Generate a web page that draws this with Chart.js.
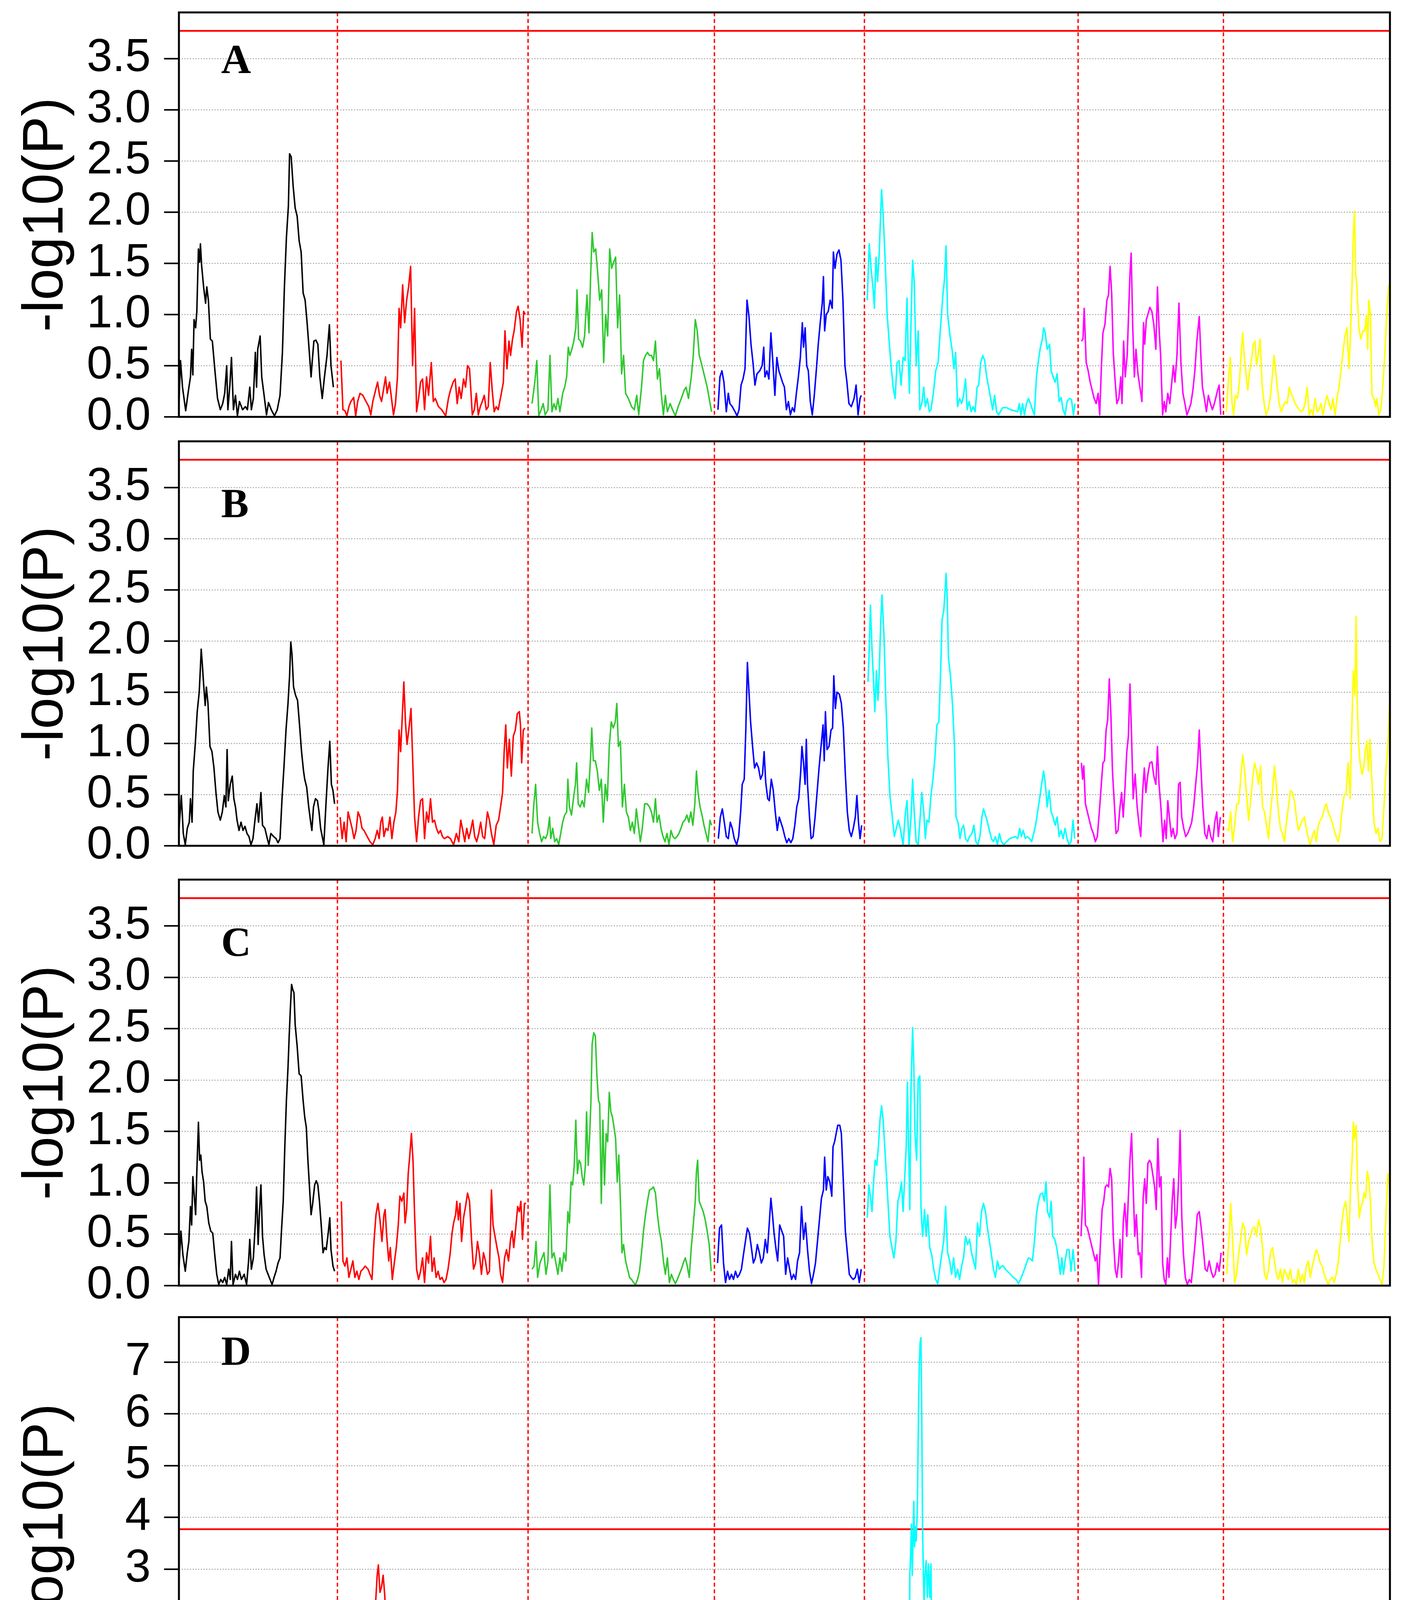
<!DOCTYPE html>
<html><head><meta charset="utf-8">
<script src="https://cdn.jsdelivr.net/npm/chart.js@4.4.1/dist/chart.umd.min.js"></script>
<style>
html,body{margin:0;padding:0;background:#fff;}
body{width:3594px;height:4819px;position:relative;overflow:hidden;}
</style></head><body>
<script>
// ---------- categories / constants ----------
const chrNames = ['1H','2H','3H','4H','5H','6H','7H'];
const chrLengths = [398,479,468,377,537,365,418];   // map units per chromosome
const chrColors = ['#000000','#ff0000','#30c830','#0000ff','#00ffff','#ff00ff','#ffff00'];
const threshold = 3.77;
const yTicksABC = [0,0.5,1,1.5,2,2.5,3,3.5];
const yTicksD = [0,1,2,3,4,5,6,7];
const additiveCells = [[108,125],[125,134],[134,155]];   // positions on 5H
const additiveColors = ['#ff6a00','#8b0000','#cc3d00'];

// ---------- panel A : [position within chromosome, -log10(P)] ----------
const A_1H = [[0,.13],[4,.55],[9,.29],[17,.06],[24,.26],[29,.39],[32,.66],[35,.41],[38,.95],[42,.87],[45,1.03],[49,1.64],[52,1.51],[54,1.69],[57,1.48],[62,1.27],[67,1.11],[70,1.27],[74,1.14],[79,.76],[84,.74],[90,.47],[97,.18],[104,.07],[110,.13],[115,.23],[120,.5],[123,.07],[128,.31],[132,.58],[137,.07],[142,.21],[147,.01],[152,.15],[160,.07],[167,.1],[172,.07],[178,.29],[182,.07],[187,.18],[192,.63],[195,.29],[198,.66],[204,.79],[208,.39],[214,.21],[220,.02],[225,.14],[232,.07],[240,.01],[247,.07],[254,.21],[260,.63],[265,1.27],[270,1.75],[275,2.06],[278,2.57],[282,2.54],[287,2.25],[292,2.04],[297,1.96],[302,1.72],[307,1.61],[312,1.21],[317,1.14],[322,.92],[327,.66],[332,.39],[335,.55],[339,.74],[344,.75],[349,.71],[354,.39],[360,.18],[365,.37],[372,.6],[378,.9],[382,.5],[388,.29]];
const A_2H = [[9,.55],[14,.07],[19,.06],[24,.01],[29,.1],[34,.15],[41,.19],[46,.01],[51,.15],[57,.23],[64,.21],[72,.15],[79,.1],[84,.02],[89,.15],[96,.26],[101,.34],[106,.21],[111,.15],[117,.29],[121,.39],[125,.23],[131,.34],[136,.18],[141,.02],[146,.13],[151,.39],[155,1.06],[159,.87],[164,1.29],[169,.92],[174,1.14],[179,1.27],[184,1.47],[189,.5],[194,1.06],[199,.05],[204,.18],[209,.34],[214,.37],[219,.07],[224,.39],[229,.21],[236,.53],[241,.15],[246,.18],[254,.1],[262,.07],[272,.01],[279,.18],[284,.26],[291,.34],[296,.37],[301,.13],[306,.29],[311,.18],[317,.37],[322,.29],[327,.5],[332,.47],[339,.02],[344,.07],[349,.23],[354,.02],[359,.1],[364,.15],[369,.21],[374,.07],[379,.1],[384,.53],[389,.26],[394,.05],[399,.1],[404,.07],[411,.21],[417,.34],[421,.84],[426,.47],[431,.74],[435,.6],[440,.76],[444,.84],[450,1.03],[454,1.08],[459,.95],[464,.68],[468,1.03],[472,1.0]];
const A_3H = [[10,.13],[17,.34],[22,.55],[27,.01],[33,.07],[38,.13],[43,.02],[50,.07],[55,.6],[60,.05],[65,.13],[70,.07],[75,.18],[80,.05],[87,.23],[92,.29],[97,.39],[101,.68],[105,.6],[110,.66],[115,.74],[120,.87],[123,1.24],[127,.76],[132,.74],[137,.68],[142,.79],[148,1.19],[153,.82],[157,1.35],[161,1.8],[165,1.61],[170,1.64],[175,1.4],[180,1.14],[185,1.24],[190,.53],[195,1.0],[200,.79],[205,1.64],[210,1.45],[215,1.51],[220,1.56],[225,.87],[230,1.19],[235,.42],[240,.6],[245,.23],[252,.18],[260,.1],[267,.07],[273,.21],[278,.02],[285,.29],[290,.55],[295,.6],[300,.63],[305,.6],[310,.6],[315,.55],[320,.74],[325,.37],[330,.47],[335,.21],[340,.02],[345,.21],[350,.05],[357,.13],[363,.07],[370,.01],[377,.1],[385,.18],[392,.26],[397,.29],[403,.18],[410,.39],[415,.6],[420,.95],[425,.84],[430,.6],[435,.53],[440,.45],[445,.37],[450,.29],[455,.18],[461,.05]];
const A_4H = [[9,.07],[14,.39],[19,.45],[24,.34],[30,.05],[35,.23],[39,.13],[45,.1],[52,.05],[57,.01],[62,.07],[67,.31],[72,.37],[77,.47],[82,1.14],[87,.98],[92,.71],[97,.53],[102,.31],[107,.42],[114,.45],[120,.5],[124,.68],[127,.39],[132,.45],[137,.37],[142,.82],[147,.53],[152,.21],[157,.58],[162,.45],[167,.39],[171,.34],[176,.29],[181,.07],[186,.15],[191,.02],[196,.09],[201,.05],[206,.23],[211,.39],[216,.58],[221,.92],[224,.68],[228,.87],[232,.5],[236,.45],[241,.15],[246,.02],[251,.21],[256,.45],[261,.71],[266,.92],[271,1.11],[274,1.37],[277,.84],[281,1.0],[286,1.03],[291,1.14],[296,1.06],[299,1.61],[303,1.45],[308,1.59],[313,1.63],[318,1.53],[323,1.14],[328,.5],[333,.34],[338,.13],[344,.1],[351,.18],[356,.31],[361,.02],[366,.18],[369,.21]];
const A_5H = [[7,1.14],[12,1.69],[17,1.43],[22,1.24],[25,1.06],[29,1.56],[33,1.32],[37,1.59],[43,2.22],[47,1.98],[52,1.53],[57,1.0],[62,.74],[67,.5],[72,.29],[77,.18],[82,.53],[87,.55],[92,.31],[97,.58],[102,.55],[107,1.16],[110,.58],[113,.23],[117,.92],[121,1.53],[125,1.32],[130,.5],[135,.84],[139,.07],[144,.13],[149,.29],[153,.1],[158,.18],[163,.05],[167,.07],[173,.23],[179,.45],[185,.53],[191,.87],[197,1.19],[201,1.34],[205,1.67],[209,1.0],[215,.79],[220,.66],[225,.47],[229,.63],[234,.1],[239,.18],[244,.13],[249,.21],[254,.37],[258,.07],[263,.15],[268,.05],[273,.1],[278,.05],[283,.29],[287,.31],[292,.53],[297,.6],[302,.55],[307,.39],[312,.29],[317,.18],[322,.07],[327,.21],[332,.05],[337,.02],[347,.09],[357,.09],[367,.07],[377,.06],[385,.05],[389,.13],[393,.02],[397,.13],[402,.02],[407,.13],[412,.18],[417,.13],[422,.07],[427,.02],[432,.39],[437,.55],[442,.68],[447,.76],[450,.87],[454,.82],[459,.66],[465,.71],[469,.45],[474,.39],[479,.34],[484,.42],[489,.15],[494,.19],[499,.07],[504,.02],[509,.15],[515,.18],[520,.17],[525,.02],[529,.13]];
const A_6H = [[8,.74],[12,.76],[15,1.06],[20,.53],[25,.45],[30,.34],[35,.26],[40,.18],[45,.13],[50,.23],[54,.02],[58,.47],[62,.82],[67,.9],[72,1.14],[76,1.19],[80,1.47],[84,1.21],[88,.63],[92,.39],[97,.13],[102,.18],[107,.39],[110,.13],[114,.74],[118,.39],[123,.6],[127,1.06],[130,1.4],[133,1.6],[137,.87],[141,.39],[145,.66],[150,.42],[155,.29],[160,.15],[164,.92],[167,.71],[171,.95],[175,1.0],[180,1.07],[185,1.03],[190,.9],[195,.66],[199,1.27],[203,.87],[207,.6],[212,.02],[216,.15],[220,.05],[225,.23],[230,.13],[235,.34],[239,.5],[243,.34],[248,.6],[253,1.11],[258,.53],[263,.23],[268,.13],[273,.02],[278,.07],[283,.13],[288,.26],[293,.45],[298,.74],[304,.98],[308,.6],[312,.29],[317,.18],[322,.05],[327,.21],[332,.13],[337,.07],[342,.13],[347,.21],[350,.26],[354,.31],[358,.02]];
const A_7H = [[7,.05],[12,.34],[17,.58],[21,.15],[25,.02],[30,.21],[35,.18],[40,.34],[45,.66],[48,.82],[52,.6],[57,.39],[61,.26],[65,.42],[70,.55],[75,.71],[79,.74],[83,.5],[88,.63],[92,.76],[97,.31],[102,.13],[107,.02],[112,.07],[117,.18],[122,.37],[127,.6],[131,.45],[135,.29],[140,.13],[145,.05],[150,.1],[155,.15],[160,.13],[165,.29],[170,.23],[175,.18],[180,.13],[185,.1],[190,.07],[195,.05],[200,.07],[205,.13],[210,.29],[215,.02],[220,.07],[225,.02],[230,.18],[235,.05],[240,.07],[245,.13],[250,.02],[255,.13],[260,.21],[265,.13],[270,.07],[275,.18],[280,.02],[285,.18],[290,.29],[295,.45],[300,.63],[305,.79],[310,.87],[315,.47],[319,.82],[323,1.32],[326,1.77],[329,2.01],[332,1.4],[335,1.27],[340,.87],[345,.76],[350,.84],[355,.84],[359,1.0],[362,.66],[365,1.14],[369,1.0],[373,.21],[378,.18],[382,.1],[385,.18],[390,.02],[395,.07],[400,.29],[405,.6],[410,1.0],[415,1.29]];

// ---------- panel B ----------
const B_1H = [[0,.15],[6,.49],[11,.12],[16,.01],[21,.17],[26,.23],[29,.46],[33,.23],[36,.73],[41,.99],[46,1.31],[51,1.5],[54,1.74],[56,1.92],[59,1.76],[62,1.58],[66,1.37],[69,1.55],[73,1.39],[78,.97],[83,.92],[88,.76],[93,.52],[98,.33],[104,.25],[109,.33],[114,.49],[118,.38],[121,.94],[124,.44],[129,.6],[134,.68],[138,.46],[142,.38],[146,.25],[151,.15],[156,.23],[161,.15],[166,.19],[171,.12],[176,.09],[181,.01],[186,.07],[191,.25],[196,.41],[200,.23],[206,.52],[210,.2],[216,.17],[222,.07],[226,.01],[231,.12],[238,.09],[244,.07],[249,.03],[254,.07],[259,.46],[264,.78],[269,1.13],[274,1.39],[278,1.66],[281,1.99],[284,1.87],[288,1.55],[293,1.47],[298,1.42],[303,1.18],[308,.92],[313,.73],[316,.65],[321,.57],[326,.38],[331,.23],[334,.15],[338,.38],[343,.46],[348,.44],[352,.33],[356,.17],[361,.07],[364,.01],[369,.38],[374,.73],[379,1.02],[383,.6],[387,.54],[391,.41]];
const B_2H = [[7,.28],[12,.07],[17,.23],[22,.04],[27,.33],[32,.25],[37,.17],[42,.07],[47,.15],[52,.33],[57,.28],[62,.17],[67,.15],[75,.09],[82,.04],[89,.01],[95,.07],[100,.15],[105,.07],[109,.23],[113,.28],[117,.09],[122,.17],[127,.15],[132,.28],[137,.07],[142,.23],[147,.33],[151,.54],[155,1.13],[159,.92],[163,1.26],[167,1.6],[171,1.21],[175,.99],[180,1.15],[185,1.34],[189,.86],[194,.28],[199,.04],[204,.28],[209,.44],[214,.46],[219,.07],[224,.33],[229,.23],[234,.46],[239,.23],[244,.25],[249,.17],[254,.12],[259,.15],[264,.09],[269,.07],[277,.09],[284,.07],[292,.01],[299,.12],[305,.04],[310,.25],[315,.15],[320,.04],[325,.17],[330,.07],[335,.15],[340,.25],[345,.09],[350,.04],[355,.12],[360,.23],[365,.09],[370,.07],[377,.33],[382,.25],[387,.12],[393,.01],[399,.2],[405,.25],[410,.38],[415,.52],[419,.92],[423,1.18],[427,.76],[432,1.04],[437,.68],[442,1.07],[447,1.13],[452,1.29],[457,1.31],[460,1.18],[463,.81],[467,1.13],[471,1.15]];
const B_3H = [[10,.12],[14,.38],[19,.6],[24,.23],[29,.12],[34,.04],[39,.09],[44,.07],[49,.12],[54,.28],[57,.07],[62,.17],[67,.04],[72,.07],[77,.01],[82,.12],[87,.23],[92,.3],[97,.33],[100,.65],[104,.38],[109,.3],[114,.46],[119,.6],[122,.81],[126,.41],[131,.38],[136,.44],[141,.38],[147,.65],[152,.52],[157,.86],[160,1.15],[164,.83],[169,.83],[174,.73],[179,.54],[184,.65],[189,.23],[194,.6],[199,.44],[204,.97],[209,1.21],[214,1.15],[219,1.21],[223,1.39],[227,.97],[232,1.02],[237,.38],[242,.6],[247,.33],[252,.28],[257,.15],[262,.23],[267,.12],[272,.36],[277,.2],[282,.04],[287,.17],[293,.41],[299,.41],[305,.38],[310,.33],[315,.23],[320,.46],[324,.23],[329,.3],[334,.17],[339,.09],[344,.04],[349,.12],[354,.01],[359,.15],[364,.09],[369,.07],[374,.09],[379,.12],[384,.17],[389,.23],[394,.25],[399,.3],[404,.23],[409,.33],[414,.2],[419,.41],[423,.73],[427,.52],[432,.38],[437,.3],[442,.2],[447,.12],[452,.04],[457,.25],[461,.2]];
const B_4H = [[10,.07],[15,.28],[20,.36],[25,.23],[30,.09],[35,.07],[40,.23],[45,.17],[50,.07],[56,.01],[61,.09],[66,.33],[70,.6],[75,.65],[79,1.13],[83,1.79],[87,1.5],[91,1.21],[96,.97],[101,.76],[106,.81],[111,.76],[116,.65],[121,.7],[125,.92],[129,.62],[134,.46],[138,.44],[143,.65],[148,.54],[153,.33],[158,.15],[163,.28],[172,.17],[177,.09],[182,.03],[187,.07],[192,.03],[197,.07],[202,.2],[207,.38],[212,.46],[217,.73],[220,.97],[224,.81],[228,.6],[231,1.04],[234,.6],[239,.28],[243,.07],[248,.09],[253,.28],[258,.52],[263,.76],[268,.97],[273,1.18],[276,.83],[279,1.31],[283,.94],[288,.97],[293,1.13],[297,1.15],[300,1.66],[304,1.34],[308,1.5],[314,1.48],[319,1.39],[324,1.15],[329,.7],[334,.33],[339,.15],[344,.09],[349,.17],[354,.28],[358,.49],[362,.23],[366,.07],[370,.2]];
const B_5H = [[9,1.6],[12,1.92],[15,2.35],[19,1.92],[23,1.6],[26,1.31],[30,1.71],[34,1.42],[37,1.68],[41,2.19],[44,2.45],[49,2.06],[54,1.39],[59,.86],[64,.49],[70,.28],[75,.09],[80,.17],[85,.25],[90,.17],[97,.01],[103,.33],[107,.44],[112,.01],[117,.28],[121,.65],[125,.33],[130,.04],[135,.01],[140,.28],[144,.52],[149,.33],[153,.07],[157,.25],[162,.23],[167,.49],[172,.65],[177,.86],[182,1.18],[187,1.21],[191,1.66],[195,2.21],[199,2.29],[202,2.45],[205,2.66],[208,2.4],[211,1.84],[216,1.66],[221,1.39],[226,.99],[230,.28],[235,.23],[240,.07],[245,.17],[249,.2],[254,.07],[259,.04],[264,.09],[270,.12],[275,.2],[280,.04],[285,.01],[290,.09],[295,.28],[299,.36],[304,.3],[309,.23],[314,.15],[319,.07],[324,.04],[329,.09],[334,.01],[339,.12],[344,.04],[350,.01],[357,.04],[365,.07],[372,.08],[379,.09],[385,.07],[390,.17],[394,.09],[399,.15],[404,.07],[409,.09],[415,.07],[420,.04],[425,.12],[430,.2],[435,.33],[440,.46],[445,.6],[450,.73],[454,.62],[459,.38],[464,.54],[469,.33],[474,.28],[479,.2],[484,.28],[489,.09],[494,.15],[499,.07],[504,.17],[509,.07],[514,.01],[519,.04],[524,.25],[528,.07]];
const B_6H = [[8,.81],[11,.65],[14,.78],[18,.41],[23,.33],[28,.25],[33,.17],[38,.12],[43,.04],[48,.09],[53,.33],[58,.6],[62,.81],[66,.83],[70,1.13],[74,1.23],[78,1.63],[82,1.29],[86,.73],[90,.46],[95,.12],[100,.15],[105,.38],[109,.52],[113,.28],[118,.6],[122,.92],[126,1.07],[130,1.58],[134,1.07],[138,.46],[143,.7],[148,.38],[153,.2],[157,.09],[162,.54],[166,.76],[170,.52],[175,.7],[180,.81],[185,.82],[190,.68],[195,.6],[199,.97],[203,.6],[208,.36],[213,.04],[217,.25],[221,.07],[225,.44],[229,.28],[234,.09],[238,.17],[243,.07],[248,.12],[252,.6],[256,.62],[260,.28],[265,.17],[270,.09],[275,.12],[280,.17],[285,.23],[290,.38],[295,.6],[300,.81],[304,1.13],[308,.78],[313,.38],[318,.12],[323,.07],[328,.2],[333,.09],[338,.04],[343,.23],[348,.33],[352,.09],[357,.28]];
const B_7H = [[8,.17],[13,.15],[18,.33],[23,.04],[28,.2],[33,.41],[38,.41],[43,.65],[48,.89],[53,.73],[58,.49],[63,.25],[68,.44],[73,.65],[78,.81],[83,.73],[88,.6],[93,.78],[98,.38],[103,.33],[108,.2],[113,.07],[118,.33],[123,.52],[128,.78],[133,.57],[138,.33],[143,.17],[148,.12],[153,.04],[158,.23],[163,.38],[168,.54],[173,.52],[178,.44],[183,.28],[188,.15],[193,.2],[198,.25],[203,.28],[208,.17],[213,.07],[218,.01],[223,.09],[228,.15],[233,.04],[238,.2],[243,.25],[248,.28],[253,.36],[258,.41],[263,.33],[268,.28],[273,.23],[278,.15],[283,.09],[288,.04],[293,.15],[298,.36],[303,.49],[308,.52],[313,.81],[318,.46],[322,1.13],[326,1.71],[330,1.47],[333,2.24],[336,1.39],[339,1.02],[343,.81],[348,.7],[352,.76],[356,.92],[360,1.02],[364,.73],[368,1.04],[373,.6],[378,.23],[383,.12],[388,.17],[393,.04],[398,.07],[403,.38],[408,.73],[413,.99],[417,1.39]];

// ---------- panel C ----------
const C_1H = [[0,.16],[5,.53],[10,.3],[16,.14],[21,.32],[25,.43],[29,.77],[32,.59],[35,1.06],[39,.85],[42,.69],[45,1.11],[49,1.59],[52,1.22],[55,1.27],[58,1.11],[62,1.01],[66,.82],[70,.77],[75,.61],[80,.53],[85,.51],[90,.3],[95,.11],[100,.01],[105,.06],[110,.03],[115,.08],[120,.01],[125,.16],[129,.06],[132,.43],[136,.01],[142,.11],[147,.06],[152,.14],[157,.06],[164,.11],[170,.01],[175,.24],[178,.45],[182,.16],[187,.27],[192,.61],[195,.96],[199,.4],[202,.69],[206,.98],[210,.48],[214,.3],[219,.16],[224,.11],[229,.06],[234,.01],[239,.08],[244,.14],[249,.22],[254,.27],[258,.56],[262,.82],[266,1.35],[270,1.8],[274,2.12],[277,2.43],[280,2.7],[283,2.93],[286,2.88],[289,2.85],[292,2.54],[297,2.33],[302,2.06],[307,2.04],[312,1.8],[316,1.64],[320,1.54],[324,1.22],[328,.96],[332,.69],[336,.8],[341,.98],[345,1.02],[349,.98],[353,.82],[358,.56],[362,.32],[366,.37],[370,.35],[375,.51],[379,.66],[382,.35],[387,.19],[391,.14]];
const C_2H = [[10,.82],[14,.24],[19,.19],[24,.27],[29,.08],[34,.16],[39,.24],[44,.08],[49,.14],[54,.06],[59,.14],[64,.16],[70,.19],[77,.16],[82,.11],[87,.06],[92,.43],[97,.69],[102,.8],[107,.64],[112,.43],[117,.69],[120,.74],[124,.48],[129,.24],[133,.37],[138,.06],[143,.22],[148,.37],[153,.59],[157,.87],[162,.82],[167,.9],[170,.61],[174,.74],[178,1.09],[182,1.27],[186,1.48],[190,1.22],[194,.69],[199,.16],[204,.06],[209,.14],[214,.27],[219,.03],[224,.32],[229,.22],[234,.48],[238,.14],[243,.27],[248,.08],[253,.14],[258,.06],[263,.08],[268,.03],[273,.06],[278,.16],[283,.3],[288,.51],[292,.61],[297,.69],[300,.82],[304,.64],[308,.8],[312,.43],[317,.66],[322,.77],[327,.9],[332,.82],[337,.45],[342,.16],[347,.22],[352,.43],[357,.3],[362,.11],[367,.32],[372,.24],[377,.11],[382,.14],[387,.93],[391,.59],[396,.48],[401,.37],[406,.27],[410,.11],[415,.03],[420,.27],[425,.35],[430,.24],[435,.45],[439,.53],[443,.37],[448,.56],[453,.77],[457,.72],[461,.82],[465,.45],[470,.8],[474,.8]];
const C_3H = [[10,.16],[15,.19],[20,.43],[24,.08],[30,.22],[35,.27],[40,.32],[45,.11],[50,.24],[55,.98],[60,.27],[65,.32],[70,.22],[75,.11],[80,.27],[85,.14],[90,.32],[95,.24],[100,.72],[104,.61],[108,1.01],[112,.98],[116,1.17],[120,1.61],[124,1.09],[128,1.22],[132,1.19],[136,1.06],[140,.98],[144,1.17],[147,1.69],[151,1.17],[155,1.48],[158,1.8],[161,2.35],[165,2.46],[169,2.43],[173,2.04],[177,1.8],[180,1.77],[184,.8],[188,1.61],[192,.98],[196,1.48],[200,1.4],[204,1.88],[208,1.69],[212,1.64],[216,1.54],[220,1.43],[224,1.01],[228,1.27],[232,.82],[236,.32],[240,.4],[245,.24],[250,.16],[255,.08],[260,.06],[265,.03],[270,.01],[275,.06],[280,.14],[285,.32],[290,.53],[295,.69],[300,.82],[305,.93],[310,.94],[315,.96],[320,.9],[325,.69],[330,.53],[335,.43],[340,.24],[345,.11],[350,.27],[355,.03],[360,.11],[365,.06],[370,.02],[375,.06],[380,.11],[385,.16],[390,.22],[395,.27],[400,.19],[405,.08],[410,.37],[415,.59],[420,.82],[423,1.11],[426,1.22],[430,.82],[435,.77],[440,.72],[445,.64],[450,.53],[455,.4],[460,.14]];
const C_4H = [[8,.22],[13,.56],[18,.59],[23,.22],[28,.03],[33,.14],[38,.06],[43,.11],[48,.06],[53,.14],[58,.08],[63,.11],[68,.16],[73,.3],[78,.43],[83,.56],[88,.51],[93,.37],[98,.22],[103,.27],[108,.4],[113,.32],[118,.22],[123,.27],[128,.45],[133,.32],[138,.61],[142,.85],[146,.69],[150,.51],[155,.35],[159,.24],[164,.59],[174,.48],[179,.11],[184,.27],[189,.16],[194,.06],[199,.11],[204,.06],[209,.24],[214,.32],[219,.77],[224,.45],[229,.61],[234,.35],[239,.14],[244,.02],[249,.11],[254,.22],[259,.43],[264,.64],[269,.85],[274,.93],[277,1.25],[281,.93],[285,1.06],[290,1.01],[295,.87],[298,1.35],[302,1.4],[306,1.48],[310,1.56],[315,1.56],[319,1.48],[324,1.01],[329,.53],[334,.32],[339,.11],[344,.08],[349,.06],[354,.08],[359,.16],[364,.03],[369,.16]];
const C_5H = [[7,.66],[11,.98],[15,.87],[19,.72],[23,1.01],[27,1.22],[31,1.17],[35,1.35],[39,1.61],[43,1.75],[47,1.61],[51,1.35],[55,1.09],[59,.82],[64,.48],[69,.37],[74,.27],[79,.43],[84,.82],[89,.9],[93,1.01],[97,.72],[101,1.04],[105,1.35],[108,1.98],[111,1.35],[114,.74],[117,1.93],[121,2.51],[124,2.14],[127,1.48],[131,1.22],[135,2.01],[139,2.04],[142,.77],[146,.48],[151,.74],[155,.48],[159,.69],[164,.37],[169,.3],[174,.16],[179,.06],[184,.02],[189,.16],[194,.3],[199,.43],[204,.77],[209,.32],[214,.24],[219,.11],[224,.27],[229,.08],[234,.16],[239,.06],[244,.19],[249,.27],[254,.48],[259,.4],[264,.45],[269,.32],[274,.24],[279,.16],[284,.61],[289,.48],[294,.72],[299,.8],[304,.72],[309,.56],[314,.43],[319,.3],[324,.16],[329,.08],[334,.24],[339,.16],[344,.19],[349,.19],[354,.16],[359,.14],[367,.11],[374,.08],[381,.06],[387,.02],[392,.06],[397,.11],[402,.16],[407,.22],[412,.27],[417,.26],[422,.24],[427,.43],[432,.69],[437,.82],[442,.89],[447,.9],[452,.82],[456,1.01],[460,.72],[465,.66],[469,.82],[473,.48],[478,.45],[483,.37],[488,.24],[492,.11],[496,.27],[500,.11],[504,.24],[509,.35],[514,.35],[519,.14],[524,.35],[529,.14]];
const C_6H = [[7,.48],[11,.82],[14,1.25],[18,.59],[23,.56],[28,.48],[33,.4],[38,.32],[43,.24],[47,.3],[51,.01],[56,.43],[60,.74],[64,.82],[68,.96],[72,.98],[76,.96],[80,1.14],[84,1.04],[88,.48],[93,.16],[97,.08],[101,.22],[105,.45],[109,.08],[113,.61],[117,.8],[122,.48],[126,.87],[130,1.22],[134,1.48],[138,.96],[142,.48],[146,.69],[151,.3],[155,.32],[159,.08],[163,.85],[167,1.04],[171,.8],[175,1.19],[179,1.22],[183,1.19],[187,1.09],[192,.96],[196,.74],[200,1.43],[204,.96],[208,1.06],[212,.22],[216,.06],[220,.01],[224,.27],[228,.08],[232,.45],[236,.82],[240,1.04],[244,.56],[248,.69],[252,1.01],[256,1.51],[260,.69],[264,.32],[269,.08],[274,.01],[279,.06],[284,.03],[289,.22],[294,.43],[299,.69],[304,.72],[309,.56],[314,.37],[319,.16],[324,.14],[329,.24],[334,.14],[339,.08],[344,.11],[349,.22],[354,.14],[359,.32]];
const C_7H = [[8,.11],[13,.43],[18,.8],[23,.43],[28,.03],[33,.11],[38,.3],[43,.45],[48,.61],[53,.56],[58,.3],[63,.43],[68,.48],[73,.56],[78,.57],[83,.48],[88,.64],[93,.56],[98,.37],[103,.11],[108,.06],[113,.16],[118,.32],[123,.37],[128,.24],[133,.11],[138,.06],[143,.16],[148,.03],[153,.16],[158,.11],[163,.06],[168,.16],[173,.03],[178,.06],[183,.01],[188,.16],[193,.03],[198,.11],[203,.03],[208,.19],[213,.24],[218,.08],[223,.19],[228,.27],[233,.35],[238,.3],[243,.22],[248,.19],[253,.11],[258,.06],[263,.01],[268,.06],[273,.08],[278,.03],[283,.11],[288,.22],[293,.43],[298,.64],[303,.77],[307,.82],[311,.64],[315,.43],[319,.96],[323,1.22],[326,1.59],[329,1.43],[333,1.56],[337,.96],[341,.66],[345,.77],[349,.8],[353,.9],[357,.85],[361,1.11],[365,1.04],[369,.82],[373,.43],[378,.22],[383,.16],[388,.11],[393,.06],[398,.01],[403,.19],[408,.69],[413,1.09],[418,.96]];

// ---------- panel D ----------
const D_1H = [[0,.05],[7,.14],[14,.3],[20,.69],[23,.41],[27,.63],[30,.8],[34,.99],[38,.69],[42,.19],[47,.3],[52,.08],[57,.25],[62,.25],[67,.3],[72,.47],[77,.3],[82,.19],[87,.14],[92,.25],[97,.36],[102,.41],[107,.47],[112,.52],[117,.69],[120,1.07],[123,1.43],[126,1.02],[130,.36],[134,.52],[139,.82],[142,.47],[147,.47],[152,.41],[157,.25],[162,.03],[167,.25],[172,.41],[177,.14],[182,.3],[187,.03],[192,.47],[197,.74],[202,.52],[207,.58],[212,.47],[217,.36],[222,.25],[227,.05],[232,.03],[237,.04],[242,.03],[247,.04],[252,.03],[257,.11],[262,.25],[267,.52],[272,.74],[277,.91],[282,.8],[287,1.02],[290,1.43],[294,.91],[299,1.07],[303,.96],[307,.58],[312,1.35],[315,1.65],[318,1.46],[322,1.57],[327,1.35],[332,1.02],[336,.74],[340,.47],[345,.63],[350,.8],[355,.74],[360,.58],[365,.3],[370,.05],[375,.19],[380,.36],[385,.41],[390,.63]];
const D_2H = [[9,.63],[13,.47],[17,.63],[21,.41],[24,.58],[28,.82],[31,.41],[35,.14],[39,.47],[43,.63],[47,.8],[51,.58],[56,.47],[61,.25],[66,.14],[71,.11],[76,.14],[81,.03],[86,.69],[91,1.51],[96,2.34],[100,2.88],[103,3.08],[107,2.55],[111,2.66],[115,2.88],[119,2.5],[123,1.79],[127,1.18],[131,1.13],[134,.91],[138,.41],[143,.3],[148,.25],[153,.14],[158,.19],[163,.14],[168,.36],[173,.25],[178,.14],[183,.58],[187,.14],[191,.47],[195,.19],[199,.3],[203,.14],[206,.8],[210,1.35],[214,.8],[218,.36],[223,.58],[227,.3],[231,.36],[236,.14],[241,.03],[246,.14],[251,.36],[256,.47],[261,.3],[266,.41],[271,.25],[276,.36],[281,.3],[286,.69],[291,1.02],[296,1.35],[299,1.57],[303,1.9],[307,1.95],[311,1.79],[315,2.12],[318,2.17],[321,1.73],[325,1.51],[329,.96],[333,.47],[337,.58],[341,.47],[345,.69],[349,.3],[353,.52],[357,.36],[361,.63],[365,.47],[369,.58],[373,.8],[377,.69],[381,.74],[385,.99],[389,.63],[393,.52],[397,.41],[401,.47],[406,.36],[411,.47],[416,.3],[421,.14],[426,.25],[431,.08],[436,.19],[441,.14],[446,.08],[451,.14],[456,.05],[461,.11],[466,.05],[471,.03]];
const D_3H = [[9,.63],[14,.47],[19,.41],[24,.58],[28,.74],[32,.52],[36,.85],[40,1.13],[44,.69],[48,.41],[52,.8],[56,2.01],[60,1.24],[64,.8],[69,.58],[74,.36],[78,.96],[82,.52],[86,.41],[90,.25],[94,.14],[99,.63],[104,.96],[109,1.24],[113,2.01],[116,2.28],[119,2.01],[123,1.73],[127,1.73],[131,1.51],[135,1.24],[139,1.02],[143,1.4],[147,1.29],[151,1.35],[155,1.24],[159,1.51],[163,2.12],[167,2.12],[171,2.01],[175,1.79],[179,1.62],[183,1.35],[187,.96],[191,1.29],[195,1.13],[199,.74],[204,.85],[209,.69],[214,.58],[219,.41],[224,.3],[229,.25],[234,.03],[239,.14],[244,.3],[249,.25],[254,.14],[259,.25],[264,.41],[269,.47],[274,.25],[279,.36],[284,.19],[289,.08],[294,.25],[299,.3],[304,.41],[309,.47],[314,.58],[319,.63],[324,.41],[329,.3],[334,.19],[339,.14],[344,.08],[349,.19],[354,.08],[359,.14],[364,.05],[369,.11],[374,.08],[379,.14],[384,.05],[389,.08],[394,.14],[399,.25],[404,.36],[409,.47],[414,.47],[419,.19],[424,.47],[429,.91],[434,.69],[439,.52],[444,.74],[449,.8],[454,.85],[459,.47]];
const D_4H = [[11,.3],[15,.19],[19,.25],[24,.08],[29,.3],[34,.19],[39,.25],[44,.14],[49,.03],[54,.14],[59,.36],[64,.63],[69,.91],[74,1.13],[79,1.35],[83,1.51],[87,1.24],[91,1.35],[95,1.51],[99,1.57],[103,1.79],[106,1.9],[109,1.51],[113,1.18],[117,.85],[121,.69],[125,.58],[129,.36],[133,.47],[137,.14],[142,.05],[147,.11],[152,.05],[157,.08],[161,.25],[165,.36],[169,.47],[173,.47],[178,.58],[183,.08],[188,.19],[193,.14],[198,.08],[203,.19],[208,.11],[213,.14],[218,.25],[223,.41],[226,.14],[230,.03],[235,.05],[240,.03],[246,.03],[253,.05],[258,.08],[263,.14],[268,.11],[273,.14],[278,.08],[283,.19],[288,.14],[293,.19],[298,.25],[303,.14],[308,.19],[313,.25],[318,.14],[323,.25],[328,.14],[333,.08],[338,.03],[343,.3],[348,.58],[353,.8],[357,.96],[361,.8],[365,.52],[368,.25],[372,.36]];
const D_5H = [[9,.63],[13,.8],[17,.63],[22,.74],[27,.8],[32,.47],[37,.19],[42,.41],[47,.58],[52,.63],[57,.69],[62,.71],[67,.63],[72,.52],[77,.36],[82,.14],[87,.03],[92,.19],[97,.36],[101,.52],[105,.3],[109,.69],[112,.03],[114,2.88],[116,3.27],[118,3.87],[120,2.88],[122,3.54],[124,4.31],[126,3.43],[128,3.82],[130,3.54],[133,4.2],[136,6.18],[138,7.01],[140,7.39],[142,7.47],[144,5.91],[146,3.82],[148,2.88],[150,2.28],[152,2.88],[155,3.16],[158,2.45],[161,3.1],[164,2.45],[167,3.1],[171,.25],[175,.36],[179,.47],[183,.47],[187,.58],[191,.91],[195,1.18],[199,1.24],[203,1.26],[207,1.18],[211,1.13],[215,.91],[219,.63],[223,.41],[227,.3],[231,.14],[235,.08],[239,.3],[243,.19],[247,.08],[251,.41],[255,.58],[259,.91],[263,1.07],[267,.91],[271,.74],[275,.96],[279,.69],[283,.58],[287,.8],[291,.52],[295,.63],[299,.69],[303,.69],[307,.71],[312,.69],[317,.63],[322,.58],[327,.71],[332,.47],[337,.58],[342,.69],[347,.47],[352,.41],[357,.47],[362,.47],[367,.44],[372,.41],[377,.36],[382,.3],[387,.25],[391,.11],[395,.3],[399,.47],[403,.74],[407,.96],[411,1.13],[415,1.24],[419,1.29],[423,1.24],[427,1.29],[432,1.24],[437,1.43],[441,1.18],[445,.69],[449,.47],[453,.19],[457,.41],[461,.36],[465,.41],[469,.36],[473,.52],[477,.69],[481,.74],[485,.8],[489,.63],[493,.36],[497,.58],[501,.47],[505,.69],[509,.85],[513,1.02],[517,1.24],[521,1.57],[525,1.68],[529,1.62],[532,1.68]];
const D_6H = [[9,.36],[13,.25],[17,.08],[22,.03],[27,.14],[32,.05],[37,.11],[42,.25],[47,.3],[52,.19],[57,.25],[62,.3],[67,.36],[72,.3],[77,.25],[82,.36],[87,.41],[92,.47],[97,.58],[102,.8],[105,1.02],[109,.58],[113,1.02],[117,1.07],[121,.85],[125,.8],[129,.69],[133,.58],[137,.47],[141,.3],[145,.03],[149,.14],[153,.14],[157,.19],[161,.36],[165,.52],[169,.69],[173,.71],[177,.69],[181,.63],[185,.47],[189,.3],[193,.47],[197,.3],[201,.52],[205,.8],[209,.52],[213,.63],[217,.58],[221,.69],[225,.58],[229,1.02],[233,1.79],[237,2.12],[240,2.34],[243,1.79],[247,1.24],[251,.8],[255,1.35],[259,1.4],[263,.96],[267,.58],[271,.47],[275,.25],[279,.41],[283,.14],[287,.47],[291,.52],[295,.19],[299,.14],[303,.19],[307,.14],[312,.16],[317,.08],[322,.14],[327,.25],[332,.14],[337,.05],[342,.14],[347,.08],[352,.14],[357,.05]];
const D_7H = [[10,.96],[15,1.07],[20,1.18],[25,1.24],[30,1.02],[35,.8],[40,.96],[45,.41],[50,.25],[55,.19],[60,.14],[65,.11],[70,.14],[75,.08],[80,.14],[85,.25],[90,.14],[95,.08],[100,.19],[105,.11],[110,.14],[115,.19],[120,.36],[125,.52],[130,.47],[135,.58],[140,.69],[145,.8],[150,.52],[155,.36],[160,.08],[165,.47],[170,.69],[175,.85],[180,.74],[185,.58],[190,.47],[195,.41],[200,.3],[205,.3],[210,.08],[215,.25],[220,.14],[225,.25],[230,.36],[235,.47],[240,.52],[245,.47],[250,.41],[255,.3],[260,.36],[265,.3],[270,.25],[275,.3],[280,.41],[285,.58],[290,.74],[295,.69],[300,.52],[305,.41],[310,.19],[315,.14],[320,.08],[325,.14],[330,.19],[335,.25],[340,.19],[345,.3],[350,.19],[355,.25],[360,.36],[365,.25],[370,.36],[375,.3],[380,.19],[385,.3],[390,.19],[395,.14],[400,.25],[405,.14],[410,.19],[415,.11]];

// ---------- build ----------
const chrStart = [];
chrLengths.reduce((acc, l) => { chrStart.push(acc); return acc + l; }, 0);
const total = chrLengths.reduce((a, b) => a + b, 0);

const W = 3594, H = 4819, PAD = 100, AXW = 458, RPAD = 36;
const panels = [
  {letter:'A', data:[A_1H,A_2H,A_3H,A_4H,A_5H,A_6H,A_7H], yMax:3.95, ticks:yTicksABC, dec:1, top:27,   bottom:1072, ly:155},
  {letter:'B', data:[B_1H,B_2H,B_3H,B_4H,B_5H,B_6H,B_7H], yMax:3.95, ticks:yTicksABC, dec:1, top:1125, bottom:2170, ly:194},
  {letter:'C', data:[C_1H,C_2H,C_3H,C_4H,C_5H,C_6H,C_7H], yMax:3.95, ticks:yTicksABC, dec:1, top:2247, bottom:3296, ly:195},
  {letter:'D', data:[D_1H,D_2H,D_3H,D_4H,D_5H,D_6H,D_7H], yMax:7.87, ticks:yTicksD,   dec:0, top:3367, bottom:4419, ly:122}
];

function makeCanvas(top, height) {
  const c = document.createElement('canvas');
  c.width = W; c.height = height;
  c.style.cssText = `position:absolute;left:0;top:${top}px;width:${W}px;height:${height}px`;
  document.body.appendChild(c);
  return c;
}
const framePlugin = (letter, ly) => ({
  id: 'frame' + letter,
  afterDatasetsDraw(chart) {
    const {ctx, chartArea: a} = chart;
    ctx.save();
    ctx.lineWidth = 5; ctx.strokeStyle = '#000';
    ctx.strokeRect(a.left, a.top, a.right - a.left, a.bottom - a.top);
    ctx.font = 'bold 106px "Liberation Serif", "Times New Roman", serif';
    ctx.fillStyle = '#000'; ctx.textBaseline = 'alphabetic'; ctx.textAlign = 'left';
    ctx.fillText(letter, a.left + 108, a.top + ly);
    ctx.restore();
  }
});
const FONT = 'Liberation Sans';

panels.forEach(p => {
  const h = p.bottom - p.top + 2 * PAD;
  const cv = makeCanvas(p.top - PAD, h);
  const datasets = p.data.map((arr, i) => ({
    data: arr.map(([pos, v]) => ({x: chrStart[i] + pos, y: v})),
    borderColor: chrColors[i], borderWidth: 3.8, pointRadius: 0, tension: 0, fill: false,
    borderJoinStyle: 'round'
  }));
  datasets.push({data: [{x: 0, y: threshold}, {x: total, y: threshold}],
    borderColor: '#ff0000', borderWidth: 4.5, pointRadius: 0, fill: false});
  new Chart(cv, {
    type: 'line',
    data: {datasets},
    options: {
      responsive: false, animation: false, devicePixelRatio: 1,
      layout: {padding: {left: 0, right: RPAD, top: PAD, bottom: PAD}},
      plugins: {legend: {display: false}, tooltip: {enabled: false}},
      scales: {
        x: {type: 'linear', min: 0, max: total,
          afterBuildTicks: s => { s.ticks = chrStart.slice(1).map(v => ({value: v})); },
          afterFit: s => { s.height = 0; },
          ticks: {display: false},
          grid: {color: '#ff0000', lineWidth: 3.5, drawTicks: false},
          border: {display: false, dash: [10, 7]}},
        y: {type: 'linear', min: 0, max: p.yMax,
          afterBuildTicks: s => { s.ticks = p.ticks.map(v => ({value: v})); },
          afterFit: s => { s.width = AXW; },
          ticks: {font: {family: FONT, size: 118}, color: '#000', padding: 34,
                  callback: v => Number(v).toFixed(p.dec)},
          grid: {color: '#a8a8a8', lineWidth: 2.5, tickColor: '#000', tickLength: 38, tickWidth: 4},
          border: {display: false, dash: [3, 4]},
          title: {display: true, text: '-log10(P)', color: '#000',
                  font: {family: FONT, size: 146}, padding: {top: 32, bottom: 0}}}
      }
    },
    plugins: [framePlugin(p.letter, p.ly)]
  });
});

// ---------- additive strip ----------
(function () {
  const sTop = 4457, sBottom = 4605;
  const cv = makeCanvas(sTop - PAD, H - (sTop - PAD));
  const datasets = additiveCells.map((c, i) => ({
    data: [{x: chrStart[4] + c[0], y: 0}, {x: chrStart[4] + c[1], y: 0}],
    borderColor: additiveColors[i], borderWidth: 21, borderCapStyle: 'butt', pointRadius: 0, fill: false
  }));
  new Chart(cv, {
    type: 'line',
    data: {datasets},
    options: {
      responsive: false, animation: false, devicePixelRatio: 1,
      layout: {padding: {left: 0, right: RPAD, top: PAD, bottom: 0}},
      plugins: {legend: {display: false}, tooltip: {enabled: false}},
      scales: {
        x: {type: 'linear', min: 0, max: total,
          afterBuildTicks: s => { s.ticks = chrStart.map((v, i) => ({value: v + chrLengths[i] / 2})); },
          afterFit: s => { s.height = H - sBottom; },
          ticks: {font: {family: FONT, size: 118}, color: '#000', padding: 46, autoSkip: false, maxRotation: 0,
                  callback: (v, i) => chrNames[i]},
          grid: {drawOnChartArea: false, drawTicks: true, tickLength: 40, tickColor: '#000', tickWidth: 4},
          border: {display: true, color: '#000', width: 5}},
        y: {type: 'linear', min: -1, max: 3,
          afterBuildTicks: s => { s.ticks = [{value: 0}]; },
          afterFit: s => { s.width = AXW; },
          ticks: {font: {family: FONT, size: 105}, color: '#000', padding: 34, callback: () => 'additive'},
          grid: {color: '#a8a8a8', lineWidth: 2.5, tickColor: '#000', tickLength: 45, tickWidth: 4},
          border: {display: true, color: '#000', width: 5, dash: [3, 4]}}
      }
    }
  });
})();
</script>
</body></html>
